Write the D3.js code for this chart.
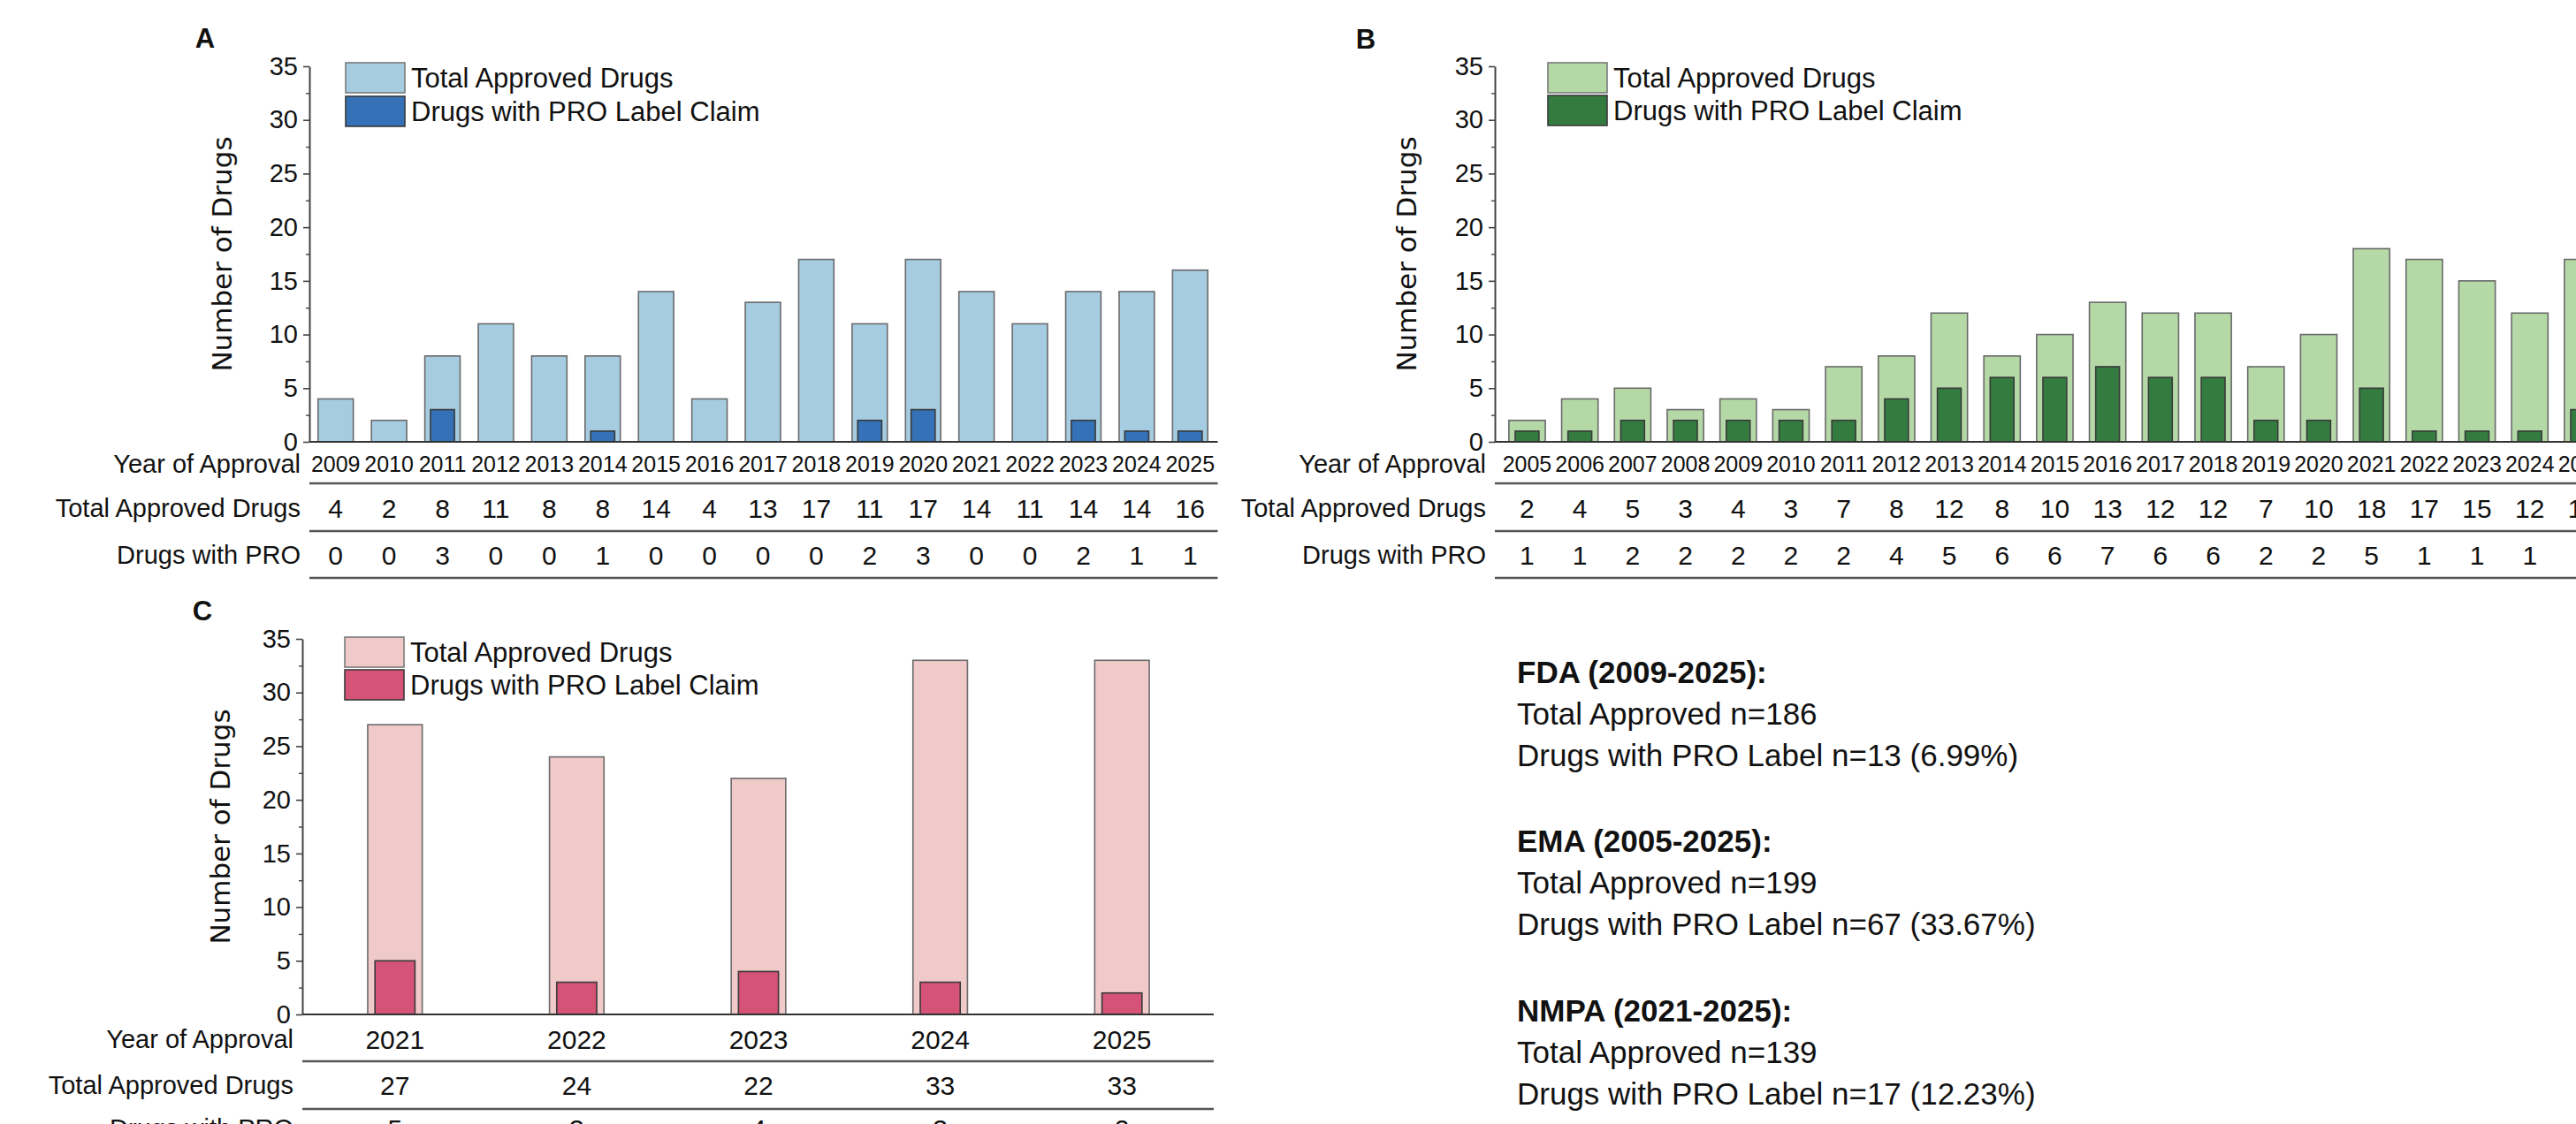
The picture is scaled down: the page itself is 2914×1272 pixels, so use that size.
<!DOCTYPE html>
<html><head><meta charset="utf-8">
<script src="https://cdn.jsdelivr.net/npm/d3@7"></script>
<style>html,body{margin:0;padding:0;background:#fff;overflow:hidden}</style>
</head><body>
<svg id="chart" width="2914" height="1272"></svg>
<script>
// ---------------- DATA ----------------
const fdaYears  = [2009,2010,2011,2012,2013,2014,2015,2016,2017,2018,2019,2020,2021,2022,2023,2024,2025];
const fdaTotal  = [4,2,8,11,8,8,14,4,13,17,11,17,14,11,14,14,16];
const fdaPRO    = [0,0,3,0,0,1,0,0,0,0,2,3,0,0,2,1,1];

const emaYears  = [2005,2006,2007,2008,2009,2010,2011,2012,2013,2014,2015,2016,2017,2018,2019,2020,2021,2022,2023,2024,2025];
const emaTotal  = [2,4,5,3,4,3,7,8,12,8,10,13,12,12,7,10,18,17,15,12,17];
const emaPRO    = [1,1,2,2,2,2,2,4,5,6,6,7,6,6,2,2,5,1,1,1,3];

const nmpaYears = [2021,2022,2023,2024,2025];
const nmpaTotal = [27,24,22,33,33];
const nmpaPRO   = [5,3,4,3,2];

const yTicks      = [0,5,10,15,20,25,30,35];
const yMinorTicks = [2.5,7.5,12.5,17.5,22.5,27.5,32.5];
const legendLabels = ["Total Approved Drugs","Drugs with PRO Label Claim"];
const rowLabels    = ["Year of Approval","Total Approved Drugs","Drugs with PRO"];
const panelLetters = ["A","B","C"];
const agencies     = ["FDA","EMA","NMPA"];

// ---------------- DRAW ----------------
const FONT = "'Liberation Sans', Arial, sans-serif";
const svg = d3.select("#chart");

function panel(cfg){
  const g = svg.append("g");
  const x = d3.scaleBand().domain(cfg.years).range(cfg.xRange).padding(0);
  const y = d3.scaleLinear().domain([0,35]).range(cfg.yRange);
  const base = y(0);
  const bw = x.bandwidth();

  // bars
  g.selectAll("rect.tot").data(cfg.years).join("rect")
    .attr("x", (d)=>x(d)+bw*(1-cfg.wTot)/2)
    .attr("width", bw*cfg.wTot)
    .attr("y", (d,i)=>y(cfg.total[i]))
    .attr("height", (d,i)=>base-y(cfg.total[i]))
    .attr("fill", cfg.light).attr("stroke","#6a6a6a").attr("stroke-width",1.6);
  g.selectAll("rect.pro").data(cfg.years.filter((d,i)=>cfg.pro[i]>0)).join("rect")
    .attr("x", (d)=>x(d)+bw*(1-cfg.wPro)/2)
    .attr("width", bw*cfg.wPro)
    .attr("y", (d)=>y(cfg.pro[cfg.years.indexOf(d)]))
    .attr("height", (d)=>base-y(cfg.pro[cfg.years.indexOf(d)]))
    .attr("fill", cfg.dark).attr("stroke","#3a3a3a").attr("stroke-width",1.6);

  // y axis
  const axX = cfg.axisX;
  const ya = g.append("g").attr("transform",`translate(${axX},0)`)
    .call(d3.axisLeft(y).tickValues(yTicks).tickSize(7).tickSizeOuter(0).tickPadding(6));
  ya.select(".domain").attr("stroke","#444").attr("stroke-width",2);
  ya.selectAll(".tick line").attr("stroke","#444").attr("stroke-width",1.6);
  ya.selectAll(".tick text").attr("font-family",FONT).attr("font-size",29).attr("fill","#111");
  const ym = g.append("g").attr("transform",`translate(${axX},0)`)
    .call(d3.axisLeft(y).tickValues(yMinorTicks).tickSize(4).tickSizeOuter(0).tickFormat(""));
  ym.select(".domain").remove();
  ym.selectAll(".tick line").attr("stroke","#444").attr("stroke-width",1.4);

  // baseline
  g.append("line").attr("x1",axX).attr("x2",cfg.xRange[1]+1).attr("y1",base).attr("y2",base)
    .attr("stroke","#333").attr("stroke-width",2.2);

  // y title
  g.append("text").attr("transform",`translate(${cfg.titleX},${(cfg.yRange[0]+cfg.yRange[1])/2}) rotate(-90)`)
    .attr("text-anchor","middle").attr("dominant-baseline","central")
    .attr("font-family","'DejaVu Sans', Verdana, sans-serif").attr("font-size",31).attr("fill","#111")
    .text("Number of Drugs");

  // panel letter
  g.append("text").attr("x",cfg.letterPos[0]).attr("y",cfg.letterPos[1])
    .attr("text-anchor","middle").attr("dominant-baseline","central")
    .attr("font-family",FONT).attr("font-weight","bold").attr("font-size",31).attr("fill","#111")
    .text(cfg.letter);

  // legend
  const L = cfg.legend;
  [cfg.light,cfg.dark].forEach((c,i)=>{
    const yy = L.y + i*L.gap;
    g.append("rect").attr("x",L.x).attr("y",yy).attr("width",67).attr("height",34)
      .attr("fill",c).attr("stroke",i?"#3a3a3a":"#7a7a7a").attr("stroke-width",1.6);
    g.append("text").attr("x",L.x+74).attr("y",yy+17).attr("dominant-baseline","central")
      .attr("font-family",FONT).attr("font-size",31).attr("fill","#111").text(legendLabels[i]);
  });

  // table
  const T = cfg.table;
  const rowsY = [base+T.year, base+T.tot, base+T.pro];
  const linesY = [base+T.l1, base+T.l2, base+T.l3];
  rowLabels.forEach((lab,r)=>{
    g.append("text").attr("x",axX-10).attr("y",rowsY[r]).attr("text-anchor","end")
      .attr("dominant-baseline","central").attr("font-family",FONT).attr("font-size",29).attr("fill","#111")
      .text(lab);
  });
  const rowVals = [cfg.years, cfg.total, cfg.pro];
  rowVals.forEach((vals,r)=>{
    g.selectAll(null).data(vals).join("text")
      .attr("x",(d,i)=>x(cfg.years[i])+bw/2).attr("y",rowsY[r])
      .attr("text-anchor","middle").attr("dominant-baseline","central")
      .attr("font-family",FONT).attr("font-size", r===0?cfg.yearFont:30).attr("fill","#111")
      .text(d=>d);
  });
  linesY.forEach(ly=>{
    g.append("line").attr("x1",axX).attr("x2",cfg.xRange[1]+1).attr("y1",ly).attr("y2",ly)
      .attr("stroke","#555").attr("stroke-width",2.4);
  });
}

panel({letter:panelLetters[0], years:fdaYears, total:fdaTotal, pro:fdaPRO,
  light:"#a6cce1", dark:"#3471b6",
  xRange:[349.5,1376.5], yRange:[500,75], axisX:350, wTot:0.66, wPro:0.45,
  titleX:251, letterPos:[232,43], legend:{x:391,y:71,gap:38}, yearFont:25,
  table:{year:25,l1:47,tot:75,l2:101,pro:128,l3:154}});

panel({letter:panelLetters[1], years:emaYears, total:emaTotal, pro:emaPRO,
  light:"#b5d9a6", dark:"#347b40",
  xRange:[1697.6,1697.6+21*59.7], yRange:[500,75], axisX:1691, wTot:0.69, wPro:0.45,
  titleX:1591, letterPos:[1545,44], legend:{x:1751,y:71,gap:37}, yearFont:25,
  table:{year:25,l1:47,tot:75,l2:101,pro:128,l3:154}});

panel({letter:panelLetters[2], years:nmpaYears, total:nmpaTotal, pro:nmpaPRO,
  light:"#f0c9c9", dark:"#d45377",
  xRange:[344,1372], yRange:[1148,723], axisX:342, wTot:0.30, wPro:0.22,
  titleX:249, letterPos:[229,691], legend:{x:390,y:721,gap:37}, yearFont:30,
  table:{year:28,l1:53,tot:80,l2:107,pro:129,l3:160}});

// summary text block
const summaries = [
  {name:agencies[0], years:fdaYears, total:fdaTotal, pro:fdaPRO},
  {name:agencies[1], years:emaYears, total:emaTotal, pro:emaPRO},
  {name:agencies[2], years:nmpaYears, total:nmpaTotal, pro:nmpaPRO}
];
const sumG = svg.append("g");
const groupY = [760, 951, 1143];
summaries.forEach((s,k)=>{
  const tot = d3.sum(s.total), p = d3.sum(s.pro);
  const lines = [
    `${s.name} (${d3.min(s.years)}-${d3.max(s.years)}):`,
    `Total Approved n=${tot}`,
    `Drugs with PRO Label n=${p} (${(p/tot*100).toFixed(2)}%)`
  ];
  lines.forEach((t,j)=>{
    sumG.append("text").attr("x",1716).attr("y",groupY[k]+j*47)
      .attr("dominant-baseline","central").attr("font-family",FONT)
      .attr("font-size",35).attr("font-weight",j===0?"bold":"normal").attr("fill","#111")
      .text(t);
  });
});
</script>
</body></html>
